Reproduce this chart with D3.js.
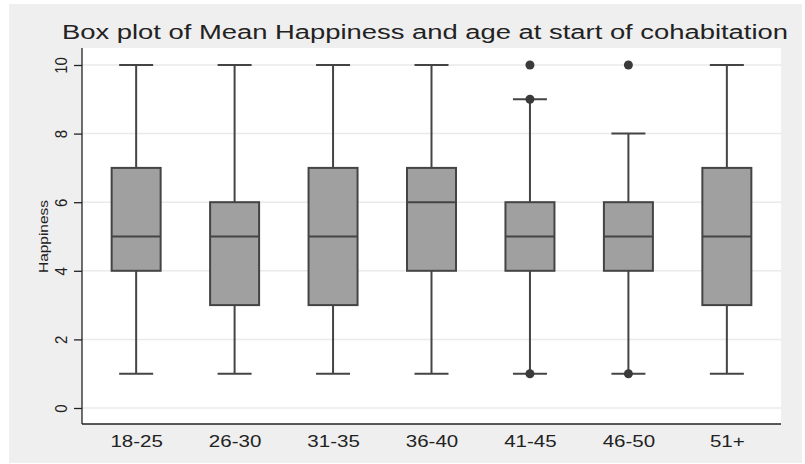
<!DOCTYPE html>
<html>
<head>
<meta charset="utf-8">
<script src="https://cdn.jsdelivr.net/npm/d3@7/dist/d3.min.js"></script>
<style>
  html, body { margin: 0; padding: 0; background: #ffffff; }
  text { font-family: "Liberation Sans", Arial, sans-serif; fill: #222; }
</style>
</head>
<body>
<svg id="chart" width="805" height="464"></svg>
<script>
// Age groups at start of cohabitation
const categories = ["18-25", "26-30", "31-35", "36-40", "41-45", "46-50", "51+"];
// Box statistics for happiness per age group
const whiskerLow  = [1, 1, 1, 1, 1, 1, 1];
const quartile1   = [4, 3, 3, 4, 4, 4, 3];
const medians     = [5, 5, 5, 6, 5, 5, 5];
const quartile3   = [7, 6, 7, 7, 6, 6, 7];
const whiskerHigh = [10, 10, 10, 10, 9, 8, 10];
// Outside values per group
const outliers = [[], [], [], [], [1, 9, 10], [1, 10], []];
const yTicks = [0, 2, 4, 6, 8, 10];

const svg = d3.select("#chart");
const plot = { left: 82, right: 781, top: 48, bottom: 424 };

// Graph region background
svg.append("rect")
  .attr("x", 9).attr("y", 4).attr("width", 793).attr("height", 459)
  .attr("fill", "#efefef");
svg.append("rect")
  .attr("x", plot.left).attr("y", plot.top)
  .attr("width", plot.right - plot.left).attr("height", plot.bottom - plot.top)
  .attr("fill", "#ffffff");

const x = d3.scalePoint().domain(categories).range([plot.left, plot.right]).padding(0.55);
const y = d3.scaleLinear().domain([0, 10]).range([408, 65]);

// Gridlines
svg.append("g").selectAll("line").data(yTicks).join("line")
  .attr("x1", plot.left).attr("x2", plot.right)
  .attr("y1", d => y(d)).attr("y2", d => y(d))
  .attr("stroke", "#eaeaea").attr("stroke-width", 1.5);

// Y axis
const yAxis = svg.append("g")
  .attr("transform", `translate(${plot.left},0)`)
  .call(d3.axisLeft(y).tickValues(yTicks).tickSize(8).tickPadding(4));
yAxis.select(".domain").attr("d", `M0,${plot.top}V${plot.bottom}`).attr("stroke", "#222").attr("stroke-width", 1.3);
yAxis.selectAll(".tick line").attr("stroke", "#222").attr("stroke-width", 1.3);
yAxis.selectAll(".tick text")
  .attr("font-size", 15).attr("x", 0).attr("y", 0).attr("dy", 0)
  .attr("text-anchor", "middle")
  .attr("transform", "translate(-15,0) scale(1.15,1) rotate(-90)")
  .attr("fill", "#222");

// X axis
const xAxis = svg.append("g")
  .attr("transform", `translate(0,${plot.bottom})`)
  .call(d3.axisBottom(x).tickSize(0));
xAxis.select(".domain").attr("d", `M${plot.left},0H${plot.right}`).attr("stroke", "#222").attr("stroke-width", 1.3);
xAxis.selectAll(".tick text")
  .attr("font-size", 16.3).attr("y", 0).attr("dy", 0)
  .attr("transform", "translate(0,22.7) scale(1.26,1)")
  .attr("fill", "#222");

// Boxes
const boxW = 49, capW = 34;
const groups = svg.append("g").selectAll("g").data(categories).join("g")
  .attr("transform", d => `translate(${x(d)},0)`);

groups.append("line")
  .attr("y1", (d, i) => y(whiskerHigh[i])).attr("y2", (d, i) => y(quartile3[i]))
  .attr("stroke", "#444").attr("stroke-width", 2);
groups.append("line")
  .attr("y1", (d, i) => y(quartile1[i])).attr("y2", (d, i) => y(whiskerLow[i]))
  .attr("stroke", "#444").attr("stroke-width", 2);
groups.append("line")
  .attr("x1", -capW / 2).attr("x2", capW / 2)
  .attr("y1", (d, i) => y(whiskerHigh[i])).attr("y2", (d, i) => y(whiskerHigh[i]))
  .attr("stroke", "#444").attr("stroke-width", 2);
groups.append("line")
  .attr("x1", -capW / 2).attr("x2", capW / 2)
  .attr("y1", (d, i) => y(whiskerLow[i])).attr("y2", (d, i) => y(whiskerLow[i]))
  .attr("stroke", "#444").attr("stroke-width", 2);
groups.append("rect")
  .attr("x", -boxW / 2).attr("width", boxW)
  .attr("y", (d, i) => y(quartile3[i]))
  .attr("height", (d, i) => y(quartile1[i]) - y(quartile3[i]))
  .attr("fill", "#a0a0a0").attr("stroke", "#444").attr("stroke-width", 2);
groups.append("line")
  .attr("x1", -boxW / 2).attr("x2", boxW / 2)
  .attr("y1", (d, i) => y(medians[i])).attr("y2", (d, i) => y(medians[i]))
  .attr("stroke", "#444").attr("stroke-width", 2);
groups.each(function(d, i) {
  d3.select(this).selectAll("circle").data(outliers[i]).join("circle")
    .attr("cx", 0).attr("cy", v => y(v)).attr("r", 4.5)
    .attr("fill", "#3a3a3a");
});

// Axis title
svg.append("text")
  .attr("transform", "translate(48,236.5) rotate(-90)")
  .attr("text-anchor", "middle")
  .attr("font-size", 13)
  .attr("textLength", 73).attr("lengthAdjust", "spacingAndGlyphs")
  .text("Happiness");

// Chart title
svg.append("text")
  .attr("x", 425).attr("y", 39)
  .attr("text-anchor", "middle")
  .attr("font-size", 19.5)
  .attr("textLength", 726).attr("lengthAdjust", "spacingAndGlyphs")
  .attr("fill", "#222")
  .text("Box plot of Mean Happiness and age at start of cohabitation");
</script>
</body>
</html>
